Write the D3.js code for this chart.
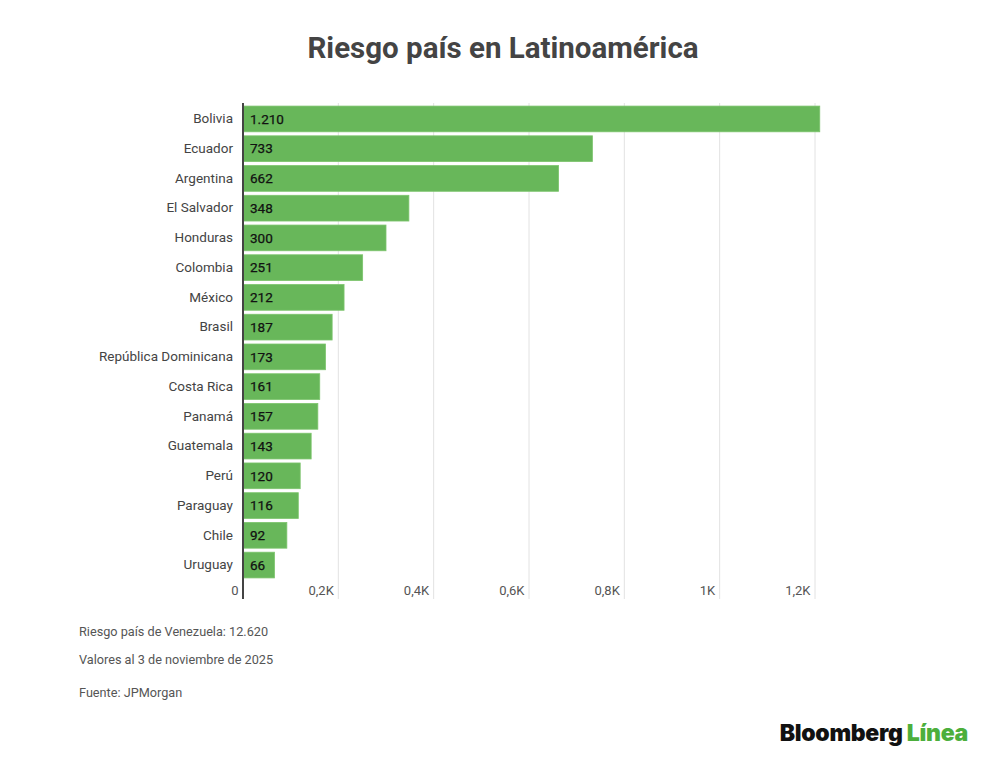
<!DOCTYPE html>
<html><head><meta charset="utf-8">
<script src="https://cdn.jsdelivr.net/npm/d3@7"></script>
<style>
body{margin:0;background:#fff;font-family:Roboto,"Noto Sans",sans-serif;}
</style></head>
<body><svg id="c" width="1000" height="763"></svg>
<script>
const countries = ["Bolivia","Ecuador","Argentina","El Salvador","Honduras","Colombia","México","Brasil","República Dominicana","Costa Rica","Panamá","Guatemala","Perú","Paraguay","Chile","Uruguay"];
const values = [1210,733,662,348,300,251,212,187,173,161,157,143,120,116,92,66];
const valueLabels = ["1.210","733","662","348","300","251","212","187","173","161","157","143","120","116","92","66"];
const tickValues = [0,200,400,600,800,1000,1200];
const tickLabels = ["0","0,2K","0,4K","0,6K","0,8K","1K","1,2K"];
const notes = ["Riesgo país de Venezuela: 12.620","Valores al 3 de noviembre de 2025","Fuente: JPMorgan"];

(function(){
const svg = d3.select("#c");
const mLeft = 243, mRight = 815, mTop = 104, mBottom = 580;
const x = d3.scaleLinear().domain([0,1200]).range([mLeft,mRight]);
const y = d3.scaleBand().domain(countries).range([mTop,mBottom]).paddingInner(0.135).paddingOuter(0.07);

svg.append("text").attr("x",503).attr("y",58).attr("text-anchor","middle")
  .attr("font-size",29.5).attr("font-weight",700).attr("fill","#444").text("Riesgo país en Latinoamérica");

// gridlines
svg.append("g").selectAll("line").data(tickValues.slice(1)).join("line")
  .attr("x1",d=>x(d)).attr("x2",d=>x(d)).attr("y1",103).attr("y2",599)
  .attr("stroke","#e2e2e2").attr("stroke-width",1);

// bars
svg.append("g").selectAll("rect").data(countries).join("rect")
  .attr("x",x(0)).attr("y",d=>y(d)).attr("height",y.bandwidth())
  .attr("width",(d,i)=>x(values[i])-x(0))
  .attr("fill","#68b75a").attr("stroke","#7cc46c").attr("stroke-width",0.8);

// value labels
svg.append("g").selectAll("text").data(countries).join("text")
  .attr("x",x(0)+7).attr("y",d=>y(d)+y.bandwidth()/2).attr("dy","0.35em")
  .attr("font-size",13.5).attr("font-weight",400).attr("fill","#111")
  .attr("stroke","#111").attr("stroke-width",0.25)
  .text((d,i)=>valueLabels[i]);

// category axis
const yAxis = d3.axisLeft(y).tickSize(0).tickPadding(10);
const ga = svg.append("g").attr("transform",`translate(${mLeft},0)`).call(yAxis);
ga.select(".domain").remove();
ga.selectAll("text").attr("font-size",13.5).attr("fill","#444").attr("font-family","Roboto, sans-serif");

// x tick labels
const xAxis = d3.axisBottom(x).tickValues(tickValues).tickSize(0).tickFormat((d,i)=>tickLabels[i]);
const gx = svg.append("g").attr("transform","translate(0,583)").call(xAxis);
gx.select(".domain").remove();
gx.selectAll("text").attr("text-anchor","end").attr("dx","-5px").attr("font-size",13).attr("fill","#555").attr("font-family","Roboto, sans-serif");

// axis line
svg.append("line").attr("x1",mLeft).attr("x2",mLeft).attr("y1",103).attr("y2",599).attr("stroke","#444").attr("stroke-width",2);

// notes
svg.append("g").selectAll("text").data(notes).join("text")
  .attr("x",79).attr("y",(d,i)=>[636,664,697][i])
  .attr("font-size",12.7).attr("fill","#555").text(d=>d);

// logo
const logo = svg.append("text").attr("x",968).attr("y",741).attr("text-anchor","end")
  .attr("font-size",23).attr("font-weight",900).attr("letter-spacing","-0.3px")
  .attr("font-family","Inter, Roboto, sans-serif");
logo.append("tspan").attr("fill","#111").text("Bloomberg ");
logo.append("tspan").attr("fill","#4caf3c").text("Línea");
})();
</script></body></html>
